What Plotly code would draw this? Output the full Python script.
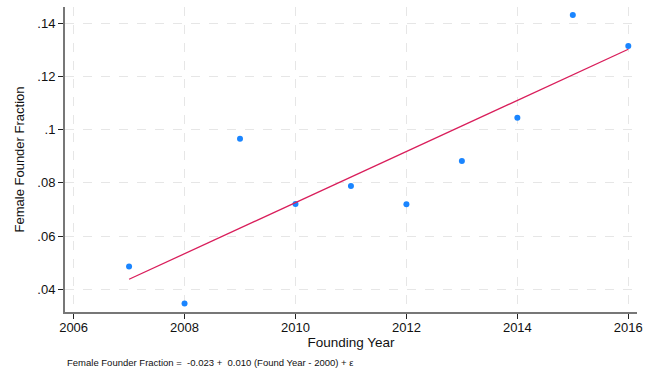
import numpy as np
import plotly.graph_objects as go

# Founding year and fraction of female founders per cohort
years = [2007, 2008, 2009, 2010, 2011, 2012, 2013, 2014, 2015, 2016]
female_frac = [0.0486, 0.0347, 0.0966, 0.0721, 0.0788, 0.0720, 0.0882, 0.1045, 0.1431, 0.1314]

x_ticks = [2006, 2008, 2010, 2012, 2014, 2016]
y_ticks = [0.04, 0.06, 0.08, 0.10, 0.12, 0.14]
y_tick_labels = [".04", ".06", ".08", ".1", ".12", ".14"]

note = "Female Founder Fraction =  -0.023 +  0.010 (Found Year - 2000) + \u03b5"

# Linear fit of fraction on (year - 2000)
xa = np.array(years, dtype=float)
ya = np.array(female_frac, dtype=float)
slope, intercept = np.polyfit(xa - 2000, ya, 1)
fit_x = [xa.min(), xa.max()]
fit_y = [intercept + slope * (v - 2000) for v in fit_x]

font = "Liberation Sans, Arial, sans-serif"

fig = go.Figure()
fig.add_trace(go.Scatter(
    x=years, y=female_frac, mode="markers",
    marker=dict(color="#1a85ff", size=6, line=dict(width=0)),
    showlegend=False,
))
fig.add_trace(go.Scatter(
    x=fit_x, y=fit_y, mode="lines",
    line=dict(color="#d91e5b", width=1.3),
    showlegend=False,
))

fig.update_layout(
    width=652, height=373,
    margin=dict(l=65, r=15, t=7, b=61),
    paper_bgcolor="white", plot_bgcolor="white",
    font=dict(family=font, size=13, color="#111"),
    xaxis=dict(
        range=[2005.845, 2016.157],
        tickvals=x_ticks, ticktext=[str(v) for v in x_ticks],
        ticks="outside", ticklen=5, tickwidth=1, tickcolor="#222",
        ticklabelstandoff=-3,
        showline=True, linecolor="#777", linewidth=2,
        showgrid=True, gridcolor="#e6e6e6", gridwidth=1, griddash="dash",
        zeroline=False,
        title=dict(text="Founding Year", font=dict(size=13.5), standoff=4),
        tickfont=dict(size=13),
    ),
    yaxis=dict(
        range=[0.03147, 0.1461],
        tickvals=y_ticks, ticktext=y_tick_labels,
        ticks="outside", ticklen=5, tickwidth=1, tickcolor="#222",
        showline=True, linecolor="#777", linewidth=2,
        showgrid=True, gridcolor="#e6e6e6", gridwidth=1, griddash="dash",
        zeroline=False,
        title=dict(text="Female Founder Fraction", font=dict(size=13), standoff=10),
        tickfont=dict(size=13),
    ),
    annotations=[dict(
        text=note, xref="paper", yref="paper", x=0.0, y=-0.164,
        xanchor="left", yanchor="middle", showarrow=False,
        font=dict(size=9.5, family=font, color="#111"),
    )],
)

fig.write_html("out.html")
